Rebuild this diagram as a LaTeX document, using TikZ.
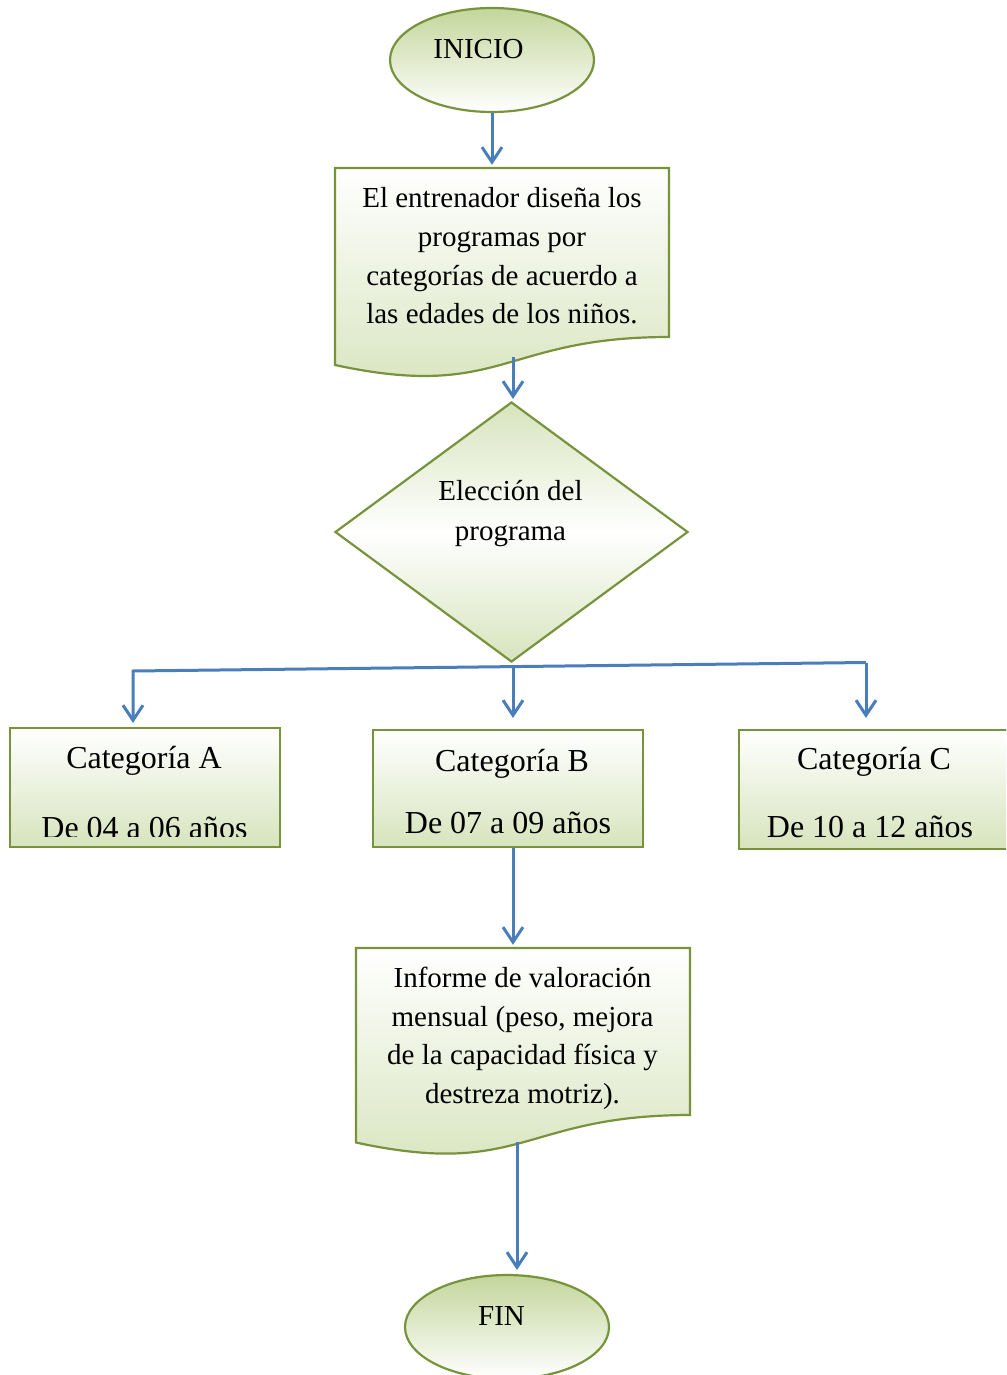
\documentclass[tikz,border=0pt]{standalone}
\usepackage{fontspec}
\setmainfont{Liberation Serif}
\usetikzlibrary{shapes.geometric,arrows.meta}
\definecolor{olive}{HTML}{77933C}
\definecolor{leaf}{HTML}{D7E4BD}
\definecolor{leafdeep}{HTML}{C3D69B}
\definecolor{flow}{HTML}{4A7EBB}

\begin{document}
\begin{tikzpicture}[x=1pt,y=-1pt,
  greenline/.style={draw=olive,line width=2.2pt},
  terminal/.style={ellipse,greenline,top color=leafdeep,bottom color=white,
    minimum width=204pt,minimum height=104pt,inner sep=0pt},
  boxfill/.style={greenline,top color=white,bottom color=leaf},
  area/.style={inner sep=0pt},
  txt/.style={font=\fontsize{29pt}{38.6pt}\selectfont,align=center,inner sep=0pt,
    execute at begin node=\strut,execute at end node=\strut},
  cattxt/.style={font=\fontsize{32pt}{38pt}\selectfont,inner sep=0pt,anchor=base},
  conn/.style={draw=flow,line width=3pt},
  arr/.style={conn,-{Straight Barb[length=15pt,width=20pt]}},
]
\useasboundingbox (0,0) rectangle (1006,1375);
\clip (0,0) rectangle (1006,1375);

% start terminal
\node[terminal] (inicio) at (492,60) {};
\node[cattxt,font=\fontsize{29pt}{34pt}\selectfont] (inicioT) at (478.5,58.5) {INICIO};

% first document: programme design
\path[boxfill] (335,168) -- (669,168) -- (669,337)
  .. controls (502,337) and (502,401) .. (335,365) -- cycle;
\node[area,minimum width=334pt,minimum height=197pt] (doc1) at (502,266.5) {};
\node[txt] (doc1T) at (502,261.5)
  {El entrenador diseña los\\programas por\\categorías de acuerdo a\\las edades de los niños.};
\coordinate (d1out) at (513,357);

% decision
\node[diamond,greenline,top color=leaf,bottom color=leaf,middle color=white,
  minimum width=353pt,minimum height=260pt,inner sep=0pt] (dia) at (511.5,532) {};
\node[txt,font=\fontsize{29pt}{40.7pt}\selectfont] (diaT) at (510.5,516.5) {Elección del\\programa};

% category boxes
\node[boxfill,rectangle,minimum width=270pt,minimum height=119pt,inner sep=0pt] (catA) at (145,787.5) {};
\node[boxfill,rectangle,minimum width=270pt,minimum height=117pt,inner sep=0pt] (catB) at (508,788.5) {};
\node[boxfill,rectangle,minimum width=271pt,minimum height=119pt,inner sep=0pt] (catC) at (874.5,789.5) {};

\node[cattxt] (catAT) at (144,768) {Categoría A};
\begin{scope}
  \clip (10,728) rectangle (280,836);
  \node[cattxt] (catAY) at (144.5,838.5) {De 04 a 06 años};
\end{scope}
\node[cattxt] (catBT) at (512,771.5) {Categoría B};
\node[cattxt] (catBY) at (508,833) {De 07 a 09 años};
\node[cattxt] (catCT) at (874,769) {Categoría C};
\node[cattxt] (catCY) at (870,837) {De 10 a 12 años};

% second document: monthly report
\path[boxfill] (356,948) -- (690,948) -- (690,1115)
  .. controls (523,1115) and (523,1178.6) .. (356,1142.5) -- cycle;
\node[area,minimum width=334pt,minimum height=195pt] (doc2) at (523,1045.5) {};
\node[txt] (doc2T) at (522.5,1041)
  {Informe de valoración\\mensual (peso, mejora\\de la capacidad física y\\destreza motriz).};
\coordinate (d2out) at (517,1142);

% end terminal
\node[terminal] (fin) at (507,1327) {};
\node[cattxt,font=\fontsize{29pt}{34pt}\selectfont] (finT) at (501.5,1325) {FIN};

% branch points
\coordinate (bl) at (133,671);
\coordinate (br) at (866,662.5);
\coordinate (bm) at (513,666.6);

% connectors
\draw[arr,shorten >=3pt] (inicio.south) -- (inicio.south |- doc1.north);
\draw[arr,shorten >=2pt] (d1out) -- (d1out |- dia.north);
\draw[arr,shorten >=4pt] (br) -- (bl) -- (bl |- catA.north);
\draw[arr,shorten >=11pt] (bm) -- (bm |- catB.north);
\draw[arr,shorten >=11pt] (br) -- (br |- catC.north);
\draw[arr,shorten >=3pt] (bm |- catB.south) -- (bm |- doc2.north);
\draw[arr,shorten >=4pt] (d2out) -- (d2out |- fin.north);
\end{tikzpicture}
\end{document}
